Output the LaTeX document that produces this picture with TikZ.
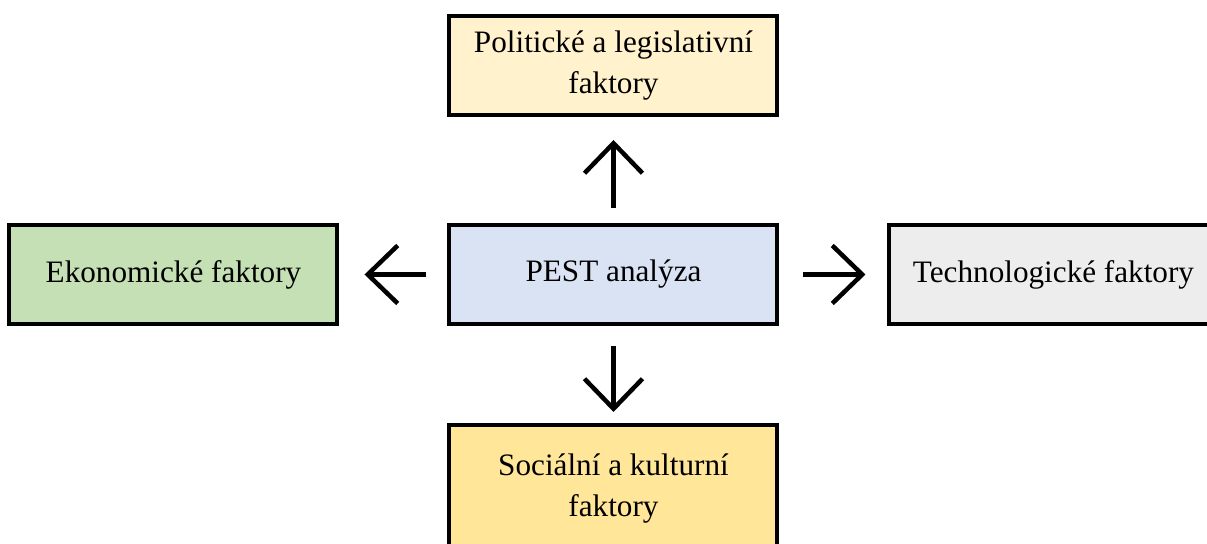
\documentclass[tikz,border=0pt]{standalone}
\usepackage{fontspec}
\setmainfont{Liberation Serif}
\usepackage{xcolor}
\usetikzlibrary{positioning,arrows.meta}
\definecolor{polcol}{HTML}{FFF2CC}
\definecolor{ekocol}{HTML}{C5E0B4}
\definecolor{pestcol}{HTML}{DAE3F3}
\definecolor{techcol}{HTML}{EDEDED}
\definecolor{soccol}{HTML}{FFE699}

\begin{document}
\begin{tikzpicture}[factor/.style={draw,line width=2pt,minimum width=164pt,minimum height=49.5pt,align=center,font=\fontsize{15.6}{20.5}\selectfont},
arr/.style={line width=2.25pt,-{Straight Barb[length=15pt,width=29pt]}}]
\useasboundingbox (-306.75pt,-134.75pt) rectangle (296.75pt,137.25pt);
\node[factor,fill=pestcol] (pest) at (0,0) {PEST analýza};
\node[factor,fill=polcol,above=53pt of pest] (pol) {Politické a legislativní\\faktory};
\node[factor,fill=ekocol,left=54pt of pest] (eko) {Ekonomické faktory};
\node[factor,fill=techcol,right=54pt of pest] (tech) {Technologické faktory};
\node[factor,fill=soccol,minimum height=64pt,below=48.5pt of pest] (soc) {Sociální a kulturní\\faktory};
\path[arr]
(pest) edge[shorten <=7.5pt,shorten >=11.5pt] (pol)
(pest) edge[shorten <=10.5pt,shorten >=12.5pt] (eko)
(pest) edge[shorten <=12pt,shorten >=11pt] (tech)
(pest) edge[shorten <=10pt,shorten >=5.5pt] (soc)
;
\end{tikzpicture}
\end{document}
